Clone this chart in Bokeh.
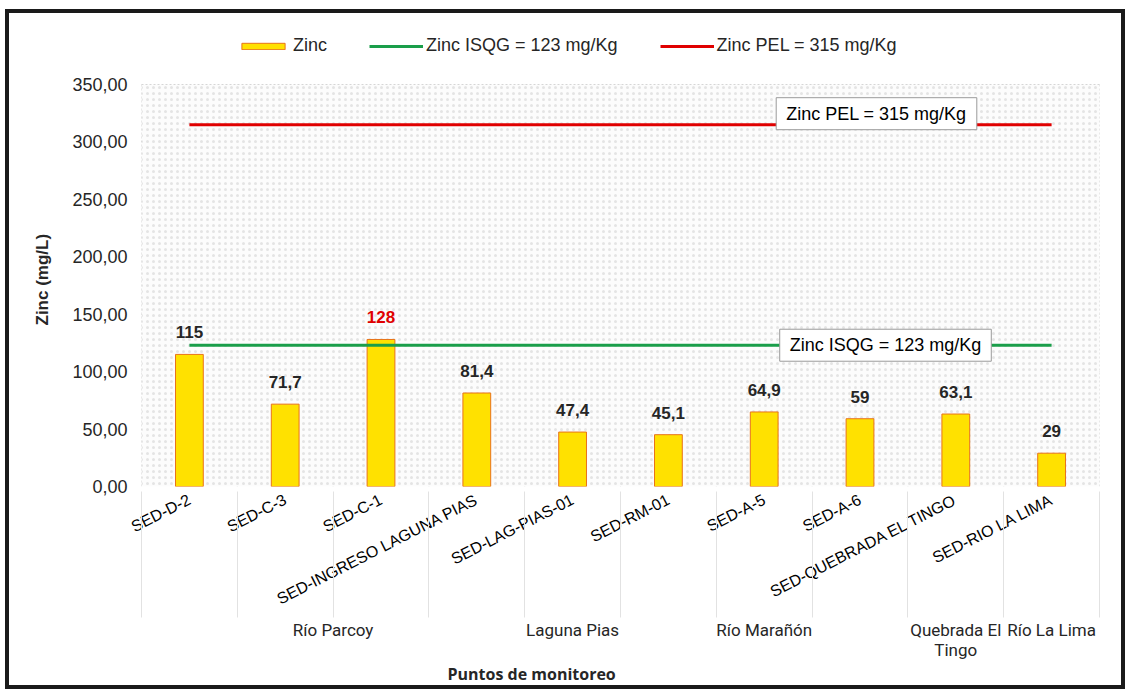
from bokeh.plotting import figure
from bokeh.models import (Range1d, FixedTicker, CustomJSTickFormatter,
                          Legend, LegendItem, Label, BoxAnnotation, ColumnDataSource, Title,
                          InlineStyleSheet, LinearAxis)
from bokeh.core.properties import value
from bokeh.embed import file_html
from bokeh.resources import INLINE
import math

# Sediment monitoring stations and measured zinc
stations = ["SED-D-2", "SED-C-3", "SED-C-1", "SED-INGRESO LAGUNA PIAS",
            "SED-LAG-PIAS-01", "SED-RM-01", "SED-A-5", "SED-A-6",
            "SED-QUEBRADA EL TINGO", "SED-RIO LA LIMA"]
zinc = [115, 71.7, 128, 81.4, 47.4, 45.1, 64.9, 59, 63.1, 29]

# Water bodies, each covering a run of consecutive stations
groups = ["Río Parcoy", "Laguna Pias", "Río Marañón", "Quebrada El\nTingo", "Río La Lima"]
group_sizes = [4, 1, 3, 1, 1]

# Sediment quality guidelines (mg/Kg)
isqg = 123
pel = 315

y_ticks = [0, 50, 100, 150, 200, 250, 300, 350]

FONT = "Liberation Sans"
DARK = "#262626"
YELLOW = "#FFE100"
EDGE = "#E8731A"
GREEN = "#1A9E4A"
RED = "#E00000"

# vertical layout: the value axis (0..350) fills 402 px, and the frame also
# holds a 52 px strip on top for the legend
AXIS_PX = 402
TOP_STRIP_PX = 52
y_max = y_ticks[-1]
y_end = y_max + TOP_STRIP_PX * y_max / AXIS_PX

# one unit-wide slot per station along x
n = len(stations)
slot_center = [i + 0.5 for i in range(n)]
bounds = list(range(n + 1))

group_centers, start = [], 0
for size in group_sizes:
    group_centers.append(start + size / 2)
    start += size

labels = [f"{v:g}".replace(".", ",") for v in zinc]
label_colors = [RED if v > isqg else DARK for v in zinc]

src = ColumnDataSource(dict(
    x=slot_center, zinc=zinc, label=labels, label_color=label_colors,
    isqg=[isqg] * n, pel=[pel] * n,
))

p = figure(
    x_range=Range1d(0, n),
    y_range=Range1d(y_ticks[0], y_end),
    width=1129, height=693,
    output_backend="svg", toolbar_location=None,
    min_border_left=141, min_border_right=30,
    min_border_top=32, min_border_bottom=207,
    background_fill_color="white", border_fill_color="white",
    outline_line_color=None,
    x_axis_type=None,
)
# black frame around the whole chart
p.stylesheets = [InlineStyleSheet(css="""
:host { position: relative; }
:host::after {
  content: ""; position: absolute; left: 5px; top: 9px; right: 4px; bottom: 4px;
  border: 4px solid #1a1a1a; pointer-events: none; z-index: 1000;
}
""")]

# stippled plot area between 0 and the top tick
p.add_layout(BoxAnnotation(bottom=y_ticks[0], top=y_max,
                           fill_color="#fcfcfc", fill_alpha=1.0, line_color=None,
                           hatch_pattern="dot", hatch_color="#c8c8c8", hatch_alpha=0.45,
                           hatch_scale=6, hatch_weight=1, level="underlay"))

# grid: dotted, horizontal at ticks, vertical at station boundaries
p.ygrid.ticker = FixedTicker(ticks=y_ticks)
p.ygrid.grid_line_color = "#b0b0b0"
p.ygrid.grid_line_dash = "2 2"
p.segment(x0=bounds, x1=bounds, y0=[y_ticks[0]] * len(bounds), y1=[y_max] * len(bounds),
          line_color="#c8c8c8", line_dash="2 2", line_width=1, level="underlay")

bars = p.vbar(x="x", top="zinc", width=0.29, source=src,
              fill_color=YELLOW, line_color=EDGE, line_width=1)
g_line = p.line(x="x", y="isqg", source=src, line_color=GREEN, line_width=3)
r_line = p.line(x="x", y="pel", source=src, line_color=RED, line_width=3)

p.text(x="x", y="zinc", text="label", source=src, text_color="label_color",
       text_align="center", text_baseline="middle", y_offset=-22,
       text_font=value(FONT), text_font_size="17px", text_font_style="bold")

# y axis
p.yaxis.ticker = FixedTicker(ticks=y_ticks)
p.yaxis.formatter = CustomJSTickFormatter(code="return tick.toFixed(2).replace('.', ',');")
p.yaxis.axis_line_color = None
p.yaxis.major_tick_line_color = None
p.yaxis.minor_tick_line_color = None
p.yaxis.major_tick_out = 0
p.yaxis.major_label_standoff = 14
p.yaxis.major_label_text_font = FONT
p.yaxis.major_label_text_font_size = "18px"
p.yaxis.major_label_text_color = DARK

p.add_layout(Title(text="Zinc (mg/L)", align="left", offset=161, standoff=36,
                   text_font=FONT, text_font_size="17px", text_font_style="bold",
                   text_color=DARK), "left")

# x axis: rotated station names
sa = LinearAxis(ticker=FixedTicker(ticks=slot_center),
                formatter=CustomJSTickFormatter(args=dict(names=stations),
                                                code="return names[Math.floor(tick)];"),
                axis_line_color=None, major_tick_line_color=None, minor_tick_line_color=None,
                major_tick_out=0, major_tick_in=0,
                major_label_orientation=math.radians(27), major_label_standoff=12,
                major_label_text_font=FONT, major_label_text_font_size="16px",
                major_label_text_color="black")
p.add_layout(sa, "below")

# second axis underneath: water body names centred on their stations,
# with light separators reaching up between the station names
ga = LinearAxis(ticker=FixedTicker(ticks=group_centers, minor_ticks=bounds),
                formatter=CustomJSTickFormatter(
                    args=dict(centers=group_centers, names=groups),
                    code="const i = centers.indexOf(tick); return i < 0 ? '' : names[i];"),
                axis_line_color=None, major_tick_line_color=None, major_tick_out=0,
                major_tick_in=0, minor_tick_line_color="#e2e2e2", minor_tick_in=126,
                minor_tick_out=0, major_label_standoff=2,
                major_label_text_font="Roboto", major_label_text_font_size="17px",
                major_label_text_color=DARK, major_label_text_line_height=1.0)
p.add_layout(ga, "below")

p.add_layout(Title(text="Puntos de monitoreo", align="left", offset=306,
                   text_font="Open Sans", text_font_size="16px", text_font_style="bold",
                   text_color=DARK, standoff=0, vertical_align="top"), "below")

# guideline callouts
p.add_layout(Label(x=735, x_units="screen", y=pel, y_offset=11,
                   text=f"Zinc PEL = {pel} mg/Kg", text_align="center", text_baseline="middle",
                   text_font=FONT, text_font_size="18px", text_color="black",
                   background_fill_color="white", border_line_color="#9a9a9a",
                   padding=(10, 6)))
p.add_layout(Label(x=744, x_units="screen", y=isqg, y_offset=0,
                   text=f"Zinc ISQG = {isqg} mg/Kg", text_align="center", text_baseline="middle",
                   text_font=FONT, text_font_size="18px", text_color="black",
                   background_fill_color="white", border_line_color="#9a9a9a",
                   padding=(10, 6)))

# legend in the strip above the value axis
legend = Legend(items=[
    LegendItem(label="Zinc", renderers=[bars]),
    LegendItem(label=f"Zinc ISQG = {isqg} mg/Kg", renderers=[g_line]),
    LegendItem(label=f"Zinc PEL = {pel} mg/Kg", renderers=[r_line]),
], orientation="horizontal", location=(95, AXIS_PX + 28), padding=0, margin=0, spacing=42,
    label_standoff=3, glyph_width=54, glyph_height=8, label_height=20,
    label_text_font=FONT, label_text_font_size="18px", label_text_color=DARK,
    border_line_color=None, background_fill_alpha=0)
p.add_layout(legend)

open("out.html", "w").write(file_html(p, INLINE))
